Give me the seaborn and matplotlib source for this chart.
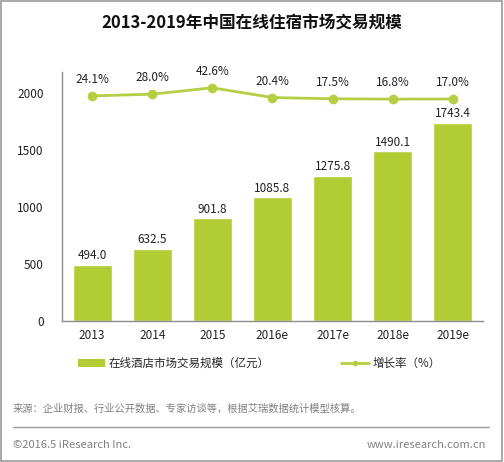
import pandas as pd
import numpy as np
import matplotlib
matplotlib.use('Agg')
import matplotlib.pyplot as plt
import seaborn as sns
from matplotlib.lines import Line2D
from matplotlib.patches import Patch, Rectangle

# dati
years = ['2013', '2014', '2015', '2016e', '2017e', '2018e', '2019e']
scale = [494.0, 632.5, 901.8, 1085.8, 1275.8, 1490.1, 1743.4]
growth = [24.1, 28.0, 42.6, 20.4, 17.5, 16.8, 17.0]
y_ticks = [0, 500, 1000, 1500, 2000]

bar_label = '在线酒店市场交易规模（亿元）'
line_label = '增长率（%）'
title = '2013-2019年中国在线住宿市场交易规模'
source = '来源：企业财报、行业公开数据、专家访谈等，根据艾瑞数据统计模型核算。'

green = '#b2cc34'
line_green = '#b5cf45'

sns.set_style('white')
plt.rcParams['font.family'] = ['Noto Sans CJK SC', 'DejaVu Sans']

df = pd.DataFrame({'year': years, 'scale': scale, 'growth': growth})

fig = plt.figure(figsize=(5.04, 4.62), dpi=100)
ax = fig.add_axes([0.123, 0.305, 0.835, 0.539])

sns.barplot(data=df, x='year', y='scale', color=green, width=0.65,
            saturation=1, ax=ax)
ax.set_xlim(-0.5, 6.5)
ax.set_ylim(0, 2187)
ax.set_yticks(y_ticks)
ax.set_xlabel('')
ax.set_ylabel('')
ax.tick_params(axis='y', length=0, pad=13, labelsize=8.5, colors='#222222')
ax.tick_params(axis='x', length=0, pad=6, labelsize=8.5, colors='#222222')
for s in ['top', 'right']:
    ax.spines[s].set_visible(False)
for s in ['left', 'bottom']:
    ax.spines[s].set_color('#8c8c8c')
    ax.spines[s].set_linewidth(1)

for i, v in enumerate(scale):
    ax.annotate(f'{v:.1f}', (i, v), xytext=(0, 2), textcoords='offset points',
                ha='center', va='bottom', fontsize=8.5, color='#222222')

# asse secondario per il tasso di crescita
ax2 = ax.twinx()
sns.pointplot(data=df, x='year', y='growth', color=line_green, markers='o',
              markersize=5.5, linewidth=2, ax=ax2)
ax2.set_ylim(-490, 78.5)
ax2.set_yticks([])
ax2.set_ylabel('')
ax2.set_xlabel('')
for s in ax2.spines.values():
    s.set_visible(False)
for i, v in enumerate(growth):
    ax2.annotate(f'{v:.1f}%', (i, v), xytext=(0, 7), textcoords='offset points',
                 ha='center', va='bottom', fontsize=8.5, color='#222222')

# titolo
fig.text(0.5, 0.952, title, ha='center', va='center', fontsize=12,
         fontweight='bold', color='#111111')

# legenda
handles = [Patch(facecolor=green, edgecolor='none'),
           Line2D([0], [0], color=line_green, lw=2, marker='o', markersize=3)]
leg = fig.legend(handles, [bar_label, line_label], loc='center',
                 bbox_to_anchor=(0.514, 0.214), ncol=2, frameon=False,
                 fontsize=8.3, handlelength=2.4, handletextpad=0.3,
                 columnspacing=6.2)

# fonte e piè di pagina
fig.text(0.026, 0.115, source, ha='left', va='center', fontsize=7.4,
         color='#808080')
fig.add_artist(Line2D([0.026, 0.970], [0.076, 0.076], color='#9a9a9a', lw=1,
                      transform=fig.transFigure))
fig.text(0.026, 0.037, '©2016.5 iResearch Inc.', ha='left', va='center',
         fontsize=8, color='#808080')
fig.text(0.965, 0.037, 'www.iresearch.com.cn', ha='right', va='center',
         fontsize=8, color='#808080')

# cornice
fig.add_artist(Rectangle((0.002, 0.002), 0.995, 0.995, fill=False,
                         edgecolor='#9a9a9a', lw=1.2, transform=fig.transFigure))

fig.savefig('out.png', dpi=100)
